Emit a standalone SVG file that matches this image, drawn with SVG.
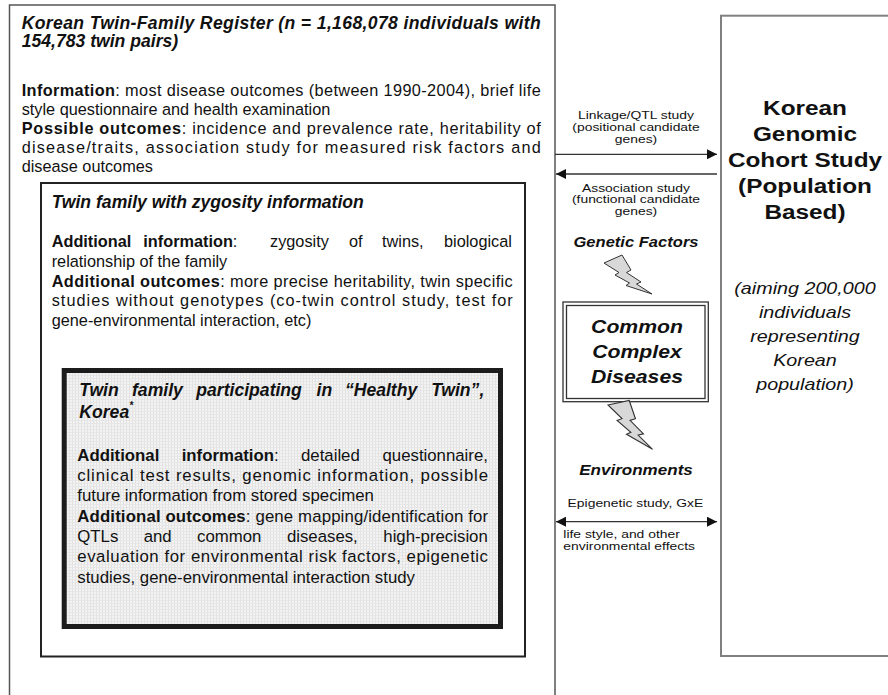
<svg xmlns="http://www.w3.org/2000/svg" width="888" height="695" viewBox="0 0 888 695">
<style>
.t{font-family:"Liberation Sans",Arial,Helvetica,sans-serif;fill:#111}
.b{font-weight:bold}
.bi{font-weight:bold;font-style:italic}
.i{font-style:italic}
.body{font-size:16.3px}
.ibody{font-size:16.8px}
.ttl{font-size:17.6px;font-weight:bold;font-style:italic}
.lbl{font-size:11.2px}
.conn{stroke:#333;stroke-width:1.3;fill:none}
</style>
<defs>
<pattern id="stip" width="3" height="3" patternUnits="userSpaceOnUse">
<rect width="3" height="3" fill="#f3f3f3"/>
<rect width="1" height="3" fill="#e2e2e2"/>
<rect width="3" height="1" fill="#e6e6e6"/>
</pattern>
<marker id="ah" markerWidth="12" markerHeight="10" refX="10" refY="5" orient="auto-start-reverse" markerUnits="userSpaceOnUse">
<path d="M0,0 L10,5 L0,10 z" fill="#111"/>
</marker>
<polygon id="bolt" points="0,0 18,-8 27,7 22.5,9.5 37,19 32.5,21 48,31 22,22.5 25.5,20 11,12 15,9.5" fill="#d8d8d8" stroke="#333" stroke-width="1"/>
</defs>
<rect width="888" height="695" fill="#fff"/>

<g id="register">
<rect x="9.5" y="5" width="545.5" height="700" fill="#fff" stroke="#555" stroke-width="1.5"/>
<text class="t ttl" x="21.7" y="28.5" textLength="519" lengthAdjust="spacing">Korean Twin-Family Register (n = 1,168,078 individuals with</text>
<text class="t ttl" x="21.7" y="47">154,783 twin pairs)</text>
<text class="t body" x="21.7" y="96" textLength="519" lengthAdjust="spacing"><tspan class="b">Information</tspan>: most disease outcomes (between 1990-2004), brief life</text>
<text class="t body" x="21.7" y="115">style questionnaire and health examination</text>
<text class="t body" x="21.7" y="134" textLength="519" lengthAdjust="spacing"><tspan class="b">Possible outcomes</tspan>: incidence and prevalence rate, heritability of</text>
<text class="t body" x="21.7" y="153" textLength="519" lengthAdjust="spacing">disease/traits, association study for measured risk factors and</text>
<text class="t body" x="21.7" y="172">disease outcomes</text>
</g>

<g id="zygosity">
<rect x="41" y="183" width="484" height="473.5" fill="#fff" stroke="#222" stroke-width="2"/>
<text class="t ttl" x="51.7" y="207.5">Twin family with zygosity information</text>
<text class="t body" y="247"><tspan class="b" x="51.7">Additional</tspan><tspan class="b" x="143.3">information</tspan><tspan>:</tspan><tspan x="270">zygosity</tspan><tspan x="349">of</tspan><tspan x="382">twins,</tspan><tspan x="444">biological</tspan></text>
<text class="t body" x="51.7" y="267">relationship of the family</text>
<text class="t body" x="51.7" y="286.5" textLength="461" lengthAdjust="spacing"><tspan class="b">Additional outcomes</tspan>: more precise heritability, twin specific</text>
<text class="t body" x="51.7" y="306" textLength="461" lengthAdjust="spacing">studies without genotypes (co-twin control study, test for</text>
<text class="t body" x="51.7" y="325.5">gene-environmental interaction, etc)</text>
</g>

<g id="healthy-twin">
<rect x="64.2" y="370.5" width="436.3" height="256" fill="url(#stip)" stroke="#1c1c1c" stroke-width="5"/>
<text class="t ttl" y="396"><tspan x="79.3">Twin</tspan><tspan x="132">family</tspan><tspan x="196.3">participating</tspan><tspan x="316.6">in</tspan><tspan x="344.9">“Healthy</tspan><tspan x="431.2">Twin”,</tspan></text>
<text class="t ttl" x="79.3" y="418.3">Korea<tspan font-size="10" dy="-9">*</tspan></text>
<text class="t ibody" y="460.5"><tspan class="b" x="77.3">Additional</tspan><tspan class="b" x="181.7">information</tspan><tspan>:</tspan><tspan x="301">detailed</tspan><tspan x="382.5">questionnaire,</tspan></text>
<text class="t ibody" x="77.3" y="481" textLength="410.7" lengthAdjust="spacing">clinical test results, genomic information, possible</text>
<text class="t ibody" x="77.3" y="501.3">future information from stored specimen</text>
<text class="t ibody" x="77.3" y="521.7" textLength="410.7" lengthAdjust="spacing"><tspan class="b">Additional outcomes</tspan>: gene mapping/identification for</text>
<text class="t ibody" y="542"><tspan x="77.3">QTLs</tspan><tspan x="143.7">and</tspan><tspan x="197.1">common</tspan><tspan x="286.9">diseases,</tspan><tspan x="383.3">high-precision</tspan></text>
<text class="t ibody" x="77.3" y="562.4" textLength="410.7" lengthAdjust="spacing">evaluation for environmental risk factors, epigenetic</text>
<text class="t ibody" x="77.3" y="582.7">studies, gene-environmental interaction study</text>
</g>

<g id="cohort">
<rect x="721" y="15.7" width="180" height="640.3" fill="#fff" stroke="#808080" stroke-width="2"/>
<g transform="matrix(1.2 0 0 1 -161 0)" text-anchor="middle">
<text class="t b" font-size="20.3" x="805" y="115">Korean</text>
<text class="t b" font-size="20.3" x="805" y="141">Genomic</text>
<text class="t b" font-size="20.3" x="805" y="167">Cohort Study</text>
<text class="t b" font-size="20.3" x="805" y="193">(Population</text>
<text class="t b" font-size="20.3" x="805" y="219">Based)</text>
</g>
<g transform="matrix(1.16 0 0 1 -128.8 0)" text-anchor="middle">
<text class="t i" font-size="17" x="805" y="294">(aiming 200,000</text>
<text class="t i" font-size="17" x="805" y="318">individuals</text>
<text class="t i" font-size="17" x="805" y="342">representing</text>
<text class="t i" font-size="17" x="805" y="366">Korean</text>
<text class="t i" font-size="17" x="805" y="390">population)</text>
</g>
</g>

<g id="diseases">
<rect x="563" y="302" width="145.3" height="99.7" fill="#fff" stroke="#333" stroke-width="1.3"/>
<rect x="566.5" y="305.5" width="138.5" height="93" fill="none" stroke="#333" stroke-width="1.3"/>
<g transform="matrix(1.14 0 0 1 -89.18 0)" text-anchor="middle">
<text class="t bi" font-size="18.6" x="637" y="333.3">Common</text>
<text class="t bi" font-size="18.6" x="637" y="358.3">Complex</text>
<text class="t bi" font-size="18.6" x="637" y="383.3">Diseases</text>
</g>
</g>

<g id="genetic-factors">
<use href="#bolt" transform="translate(604,263)"/>
<g transform="matrix(1.2 0 0 1 -127.2 0)">
<text class="t bi" font-size="13.8" x="636" y="246.7" text-anchor="middle">Genetic Factors</text>
</g>
</g>

<g id="environments">
<use href="#bolt" transform="translate(608,405) rotate(12) scale(1.1)"/>
<g transform="matrix(1.2 0 0 1 -127.2 0)">
<text class="t bi" font-size="14.2" x="636" y="475" text-anchor="middle">Environments</text>
</g>
</g>

<g id="connectors">
<line class="conn" x1="555" y1="154.3" x2="717" y2="154.3" marker-end="url(#ah)"/>
<line class="conn" x1="717" y1="174" x2="556" y2="174" marker-end="url(#ah)"/>
<line class="conn" x1="556" y1="521.7" x2="717" y2="521.7" marker-start="url(#ah)" marker-end="url(#ah)"/>
<g transform="matrix(1.24 0 0 1 -152.64 0)" text-anchor="middle">
<text class="t lbl" x="636" y="119">Linkage/QTL study</text>
<text class="t lbl" x="636" y="131">(positional candidate</text>
<text class="t lbl" x="636" y="143.3">genes)</text>
<text class="t lbl" x="636" y="191.7">Association study</text>
<text class="t lbl" x="636" y="203.5">(functional candidate</text>
<text class="t lbl" x="636" y="215.3">genes)</text>
<text class="t lbl" x="635.5" y="506.7">Epigenetic study, GxE</text>
<text class="t lbl" x="577.4" y="538.3" text-anchor="start">life style, and other</text>
<text class="t lbl" x="577.4" y="550.3" text-anchor="start">environmental effects</text>
</g>
</g>
</svg>
